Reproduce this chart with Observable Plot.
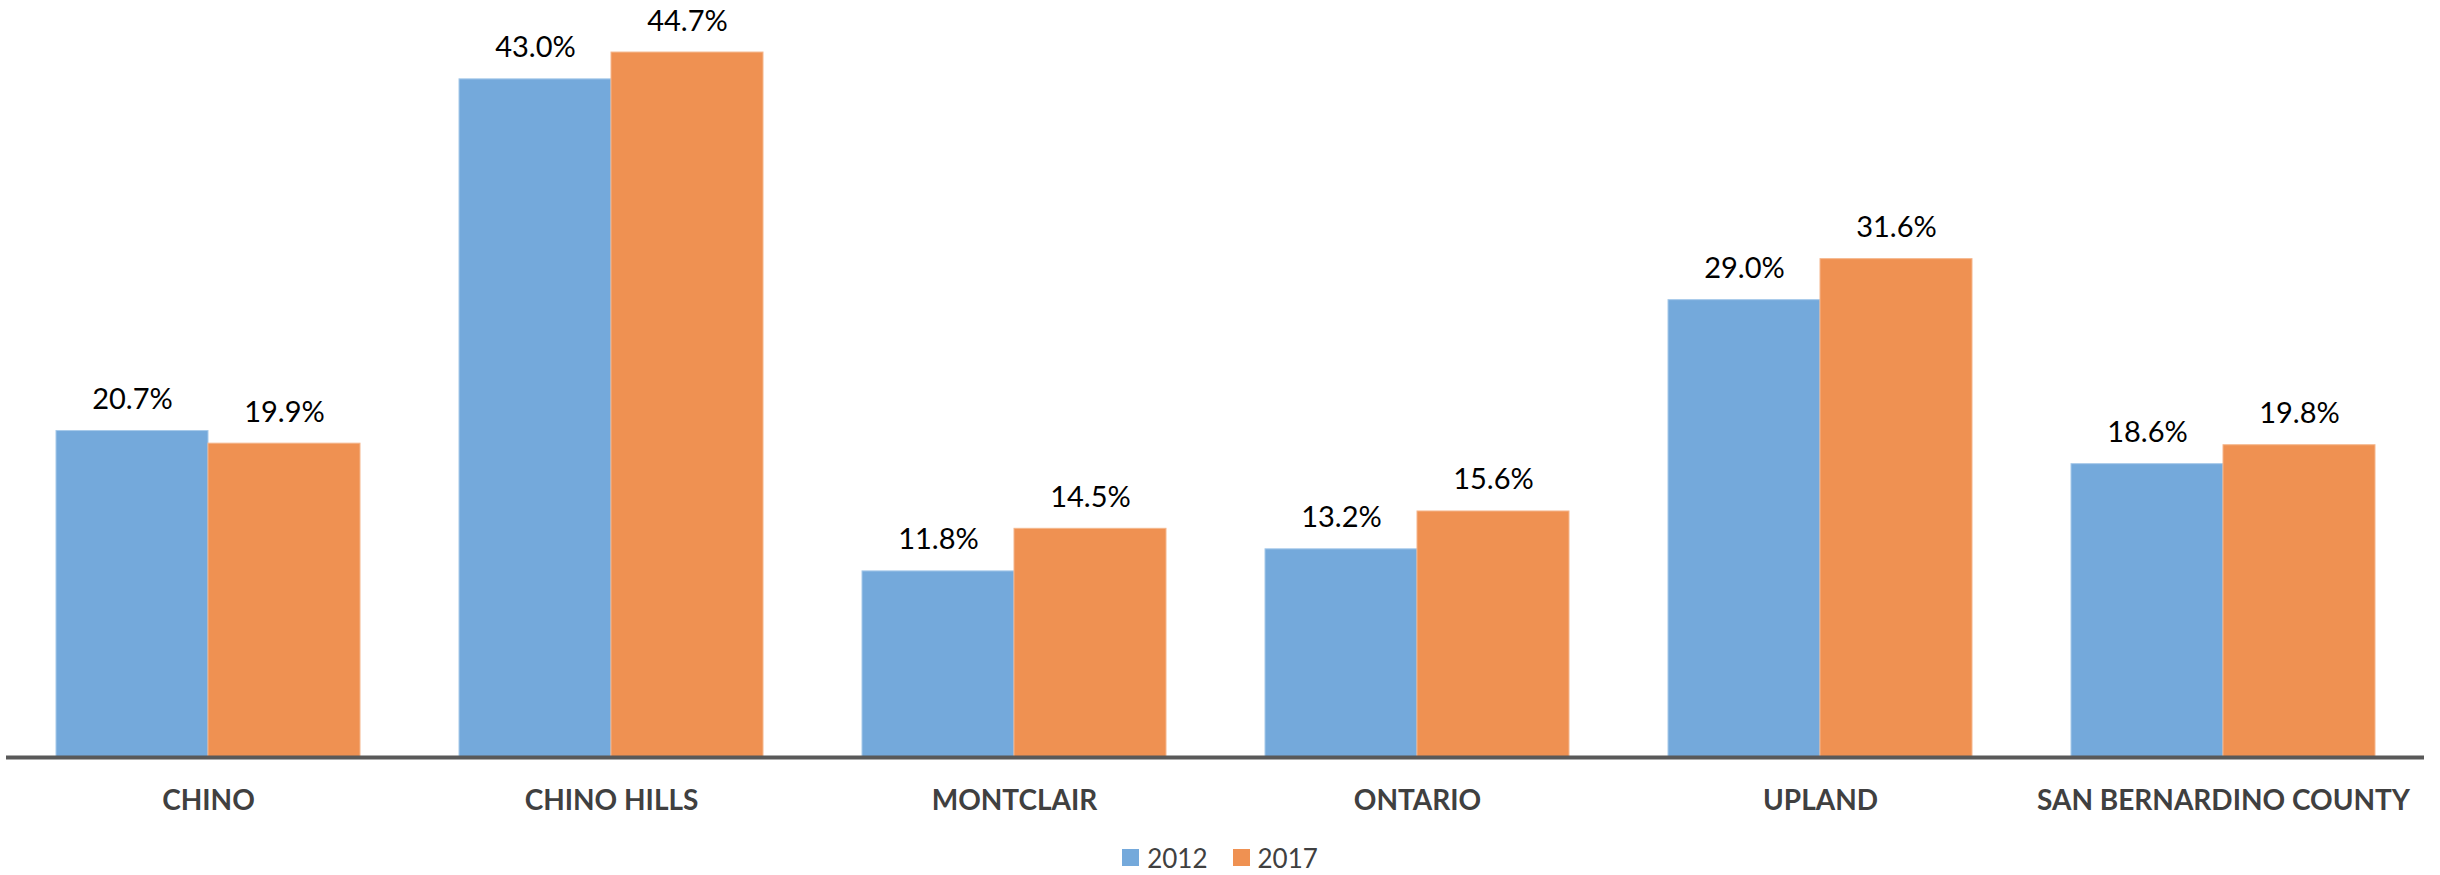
<!DOCTYPE html>
<html>
<head>
<meta charset="utf-8">
<script src="https://cdn.jsdelivr.net/npm/d3@7"></script>
<script src="https://cdn.jsdelivr.net/npm/@observablehq/plot@0.6"></script>
<style>
  html, body { margin: 0; padding: 0; background: #fff; }
  body { width: 2440px; height: 875px; overflow: hidden; font-family: Lato, "Open Sans", sans-serif; }
  #legend { display: flex; justify-content: center; align-items: center; height: 35px; gap: 25px; color: #404040; font-size: 26px; }
  .item { display: flex; align-items: center; gap: 8px; }
  .sw { width: 17px; height: 17px; display: inline-block; }
</style>
</head>
<body>
<div id="chart"></div>
<div id="legend"></div>
<script>
const cities = ["CHINO", "CHINO HILLS", "MONTCLAIR", "ONTARIO", "UPLAND", "SAN BERNARDINO COUNTY"];
const years = ["2012", "2017"];
const values2012 = [20.7, 43.0, 11.8, 13.2, 29.0, 18.6];
const values2017 = [19.9, 44.7, 14.5, 15.6, 31.6, 19.8];
const colors = ["#74a9db", "#ef9152"];
const strokes = ["#a6c9ea", "#f5b68c"];

const rows2012 = cities.map((c, i) => ({city: c, year: years[0], value: values2012[i]}));
const rows2017 = cities.map((c, i) => ({city: c, year: years[1], value: values2017[i]}));

const half = 152;
const fmt = d => d.value.toFixed(1) + "%";

const plot = Plot.plot({
  width: 2440,
  height: 840,
  marginLeft: 6,
  marginRight: 16,
  marginTop: 0,
  marginBottom: 83,
  style: {fontFamily: "Lato, 'Open Sans', sans-serif", background: "#fff"},
  x: {domain: cities, paddingInner: 0.246, paddingOuter: 0.123, label: null},
  y: {domain: [0, 48], axis: null},
  marks: [
    Plot.barY(rows2012, {x: "city", y: "value", fill: colors[0], stroke: strokes[0], strokeWidth: 1, insetRight: half}),
    Plot.barY(rows2017, {x: "city", y: "value", fill: colors[1], stroke: strokes[1], strokeWidth: 1, insetLeft: half}),
    Plot.text(rows2012, {x: "city", y: "value", text: fmt, dx: -76, dy: -22, lineAnchor: "bottom", fontSize: 29, fill: "#000"}),
    Plot.text(rows2017, {x: "city", y: "value", text: fmt, dx: 76, dy: -22, lineAnchor: "bottom", fontSize: 29, fill: "#000"}),
    Plot.ruleY([0], {stroke: "#595959", strokeWidth: 4}),
    Plot.axisX({tickSize: 0, tickPadding: 33, fontSize: 28, fontWeight: "bold", fill: "#404040", label: null})
  ]
});
document.getElementById("chart").appendChild(plot);

const legend = document.getElementById("legend");
years.forEach((y, i) => {
  const it = document.createElement("span");
  it.className = "item";
  it.innerHTML = `<span class="sw" style="background:${colors[i]}"></span><span>${y}</span>`;
  legend.appendChild(it);
});
</script>
</body>
</html>
